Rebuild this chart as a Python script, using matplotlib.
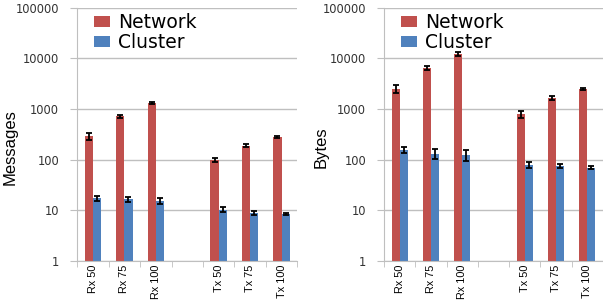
import numpy as np
import matplotlib.pyplot as plt

# datos
categorias = ['Rx 50', 'Rx 75', 'Rx 100', '', 'Tx 50', 'Tx 75', 'Tx 100']

msg_network = [290, 714, 1310, np.nan, 100, 190, 285]
msg_network_err = [45, 35, 60, np.nan, 10, 14, 15]
msg_cluster = [17.3, 16.5, 15.2, np.nan, 10.3, 9.0, 8.5]
msg_cluster_err = [2.2, 2.0, 2.0, np.nan, 1.2, 0.8, 0.5]

bytes_network = [2550, 6500, 12200, np.nan, 790, 1650, 2480]
bytes_network_err = [450, 650, 1000, np.nan, 130, 170, 110]
bytes_cluster = [155, 132, 125, np.nan, 79, 74, 70]
bytes_cluster_err = [22, 28, 32, np.nan, 12, 7, 6]

rojo = '#C0504D'
azul = '#4F81BD'
gris = '#BFBFBF'
fuente = 'Liberation Sans'


def dibujar(ax, red, red_err, clus, clus_err, etiqueta, pos_etiqueta):
    x = np.arange(len(categorias))
    w = 0.26
    ax.bar(x - w / 2, red, w, color=rojo, label='Network', zorder=2)
    ax.bar(x + w / 2, clus, w, color=azul, label='Cluster', zorder=2)
    ax.errorbar(x - w / 2, red, yerr=red_err, fmt='none', ecolor='black',
                elinewidth=1.3, capsize=2, capthick=1.3, zorder=3)
    ax.errorbar(x + w / 2, clus, yerr=clus_err, fmt='none', ecolor='black',
                elinewidth=1.3, capsize=2, capthick=1.3, zorder=3)

    ax.set_yscale('log')
    ax.set_ylim(1, 100000)
    ax.set_xlim(-0.5, len(categorias) - 0.5)
    ax.set_yticks([1, 10, 100, 1000, 10000, 100000])
    ax.set_yticklabels(['1', '10', '100', '1000', '10000', '100000'])
    ax.minorticks_off()
    ax.yaxis.grid(True, color=gris, linewidth=1, zorder=0)
    ax.tick_params(axis='y', length=5, color=gris, labelsize=8.3, pad=8,
                   labelcolor='#333333')

    ax.set_xticks(x)
    ax.set_xticklabels(categorias, rotation=90, family=fuente, fontsize=7.8)
    ax.set_xticks(np.arange(len(categorias) + 1) - 0.5, minor=True)
    ax.tick_params(axis='x', which='major', length=0, pad=3)
    ax.tick_params(axis='x', which='minor', length=4, color=gris)

    for s in ['top', 'right']:
        ax.spines[s].set_visible(False)
    ax.spines['left'].set_color(gris)
    ax.spines['bottom'].set_color(gris)

    ax.set_ylabel(etiqueta, family=fuente, fontsize=12)
    ax.yaxis.set_label_coords(pos_etiqueta, 0.45)
    ax.legend(loc='upper left', bbox_to_anchor=(0.0, 1.045), frameon=False,
              handlelength=0.85, handleheight=0.55, handletextpad=0.45,
              labelspacing=0.05, prop={'size': 13.5})


fig = plt.figure(figsize=(6.03, 3.03), dpi=100)
ax1 = fig.add_axes([0.128, 0.139, 0.365, 0.835])
ax2 = fig.add_axes([0.637, 0.139, 0.363, 0.835])

dibujar(ax1, msg_network, msg_network_err, msg_cluster, msg_cluster_err, 'Messages', -0.27)
dibujar(ax2, bytes_network, bytes_network_err, bytes_cluster, bytes_cluster_err, 'Bytes', -0.255)

fig.savefig('out.png', dpi=100)
